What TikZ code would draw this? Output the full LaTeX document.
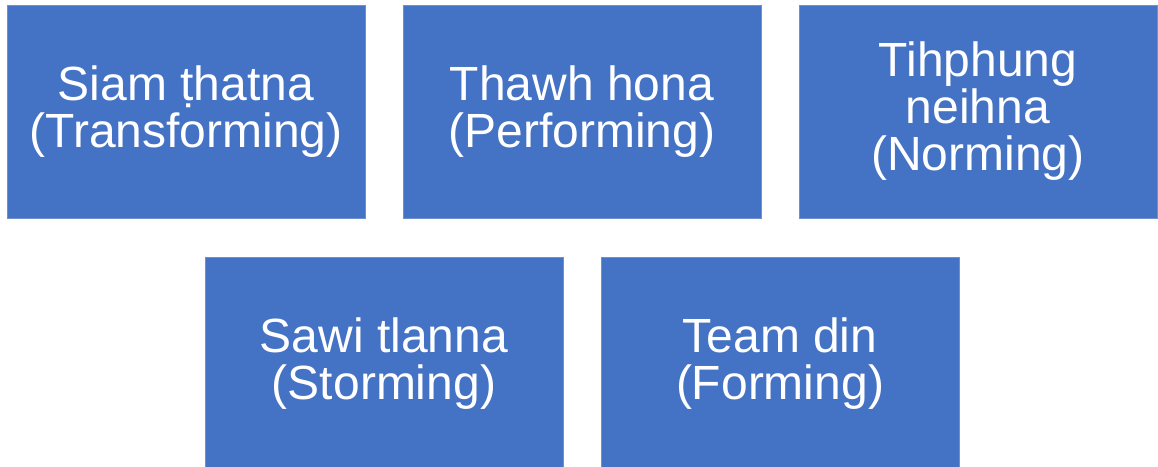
\documentclass[tikz,border=0pt]{standalone}
\usepackage{fontspec}
\setmainfont{Liberation Sans}
\usepackage{xcolor}
\definecolor{stageblue}{HTML}{4472C4}
\definecolor{stageline}{HTML}{6F8FCF}
\usetikzlibrary{positioning}
\begin{document}
\begin{tikzpicture}[x=1pt, y=1pt,
  stagebox/.style={draw=stageline, line width=0.8pt, fill=stageblue, text=white,
    minimum width=358pt, minimum height=213pt, inner sep=0pt,
    align=center, font=\fontsize{48}{47}\selectfont}]
  \useasboundingbox (0,0) rectangle (1158,-466);
  %--- Top row
    \node[stagebox] (TR) at (186,-111.5) {Siam ṭhatna\\(Transforming)};
    \node[stagebox] (PE) at (582,-111.5) {Thawh hona\\(Performing)};
    \node[stagebox] (NO) at (978,-111.5) {Tihphung\\neihna\\(Norming)};
  %--- Bottom row
    \node[stagebox] (ST) at (384,-363.5) {Sawi tlanna\\(Storming)};
    \node[stagebox] (FO) at (780,-363.5) {Team din\\(Forming)};
  %---
\end{tikzpicture}
\end{document}
